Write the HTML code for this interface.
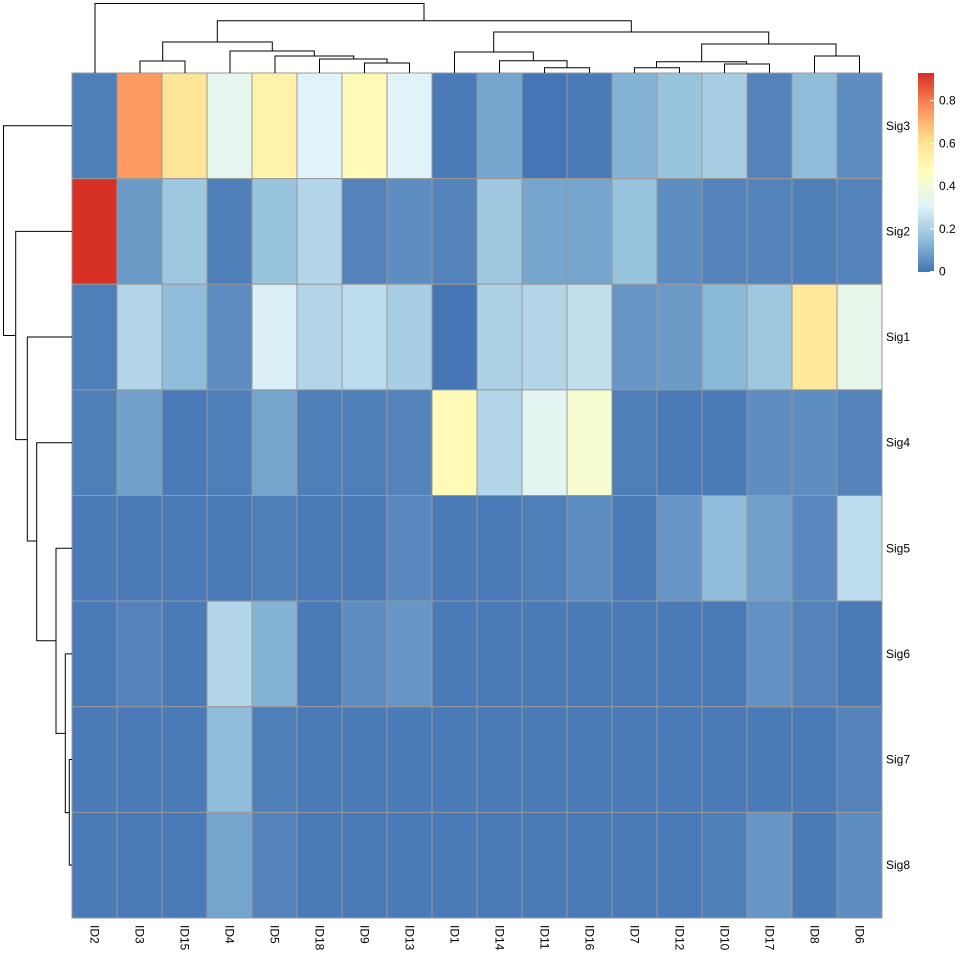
<!DOCTYPE html>
<html><head><meta charset="utf-8"><style>
body{margin:0;background:#fff;}
svg{display:block;font-family:"Liberation Sans",sans-serif;}
</style></head><body>
<svg id="chart" width="960" height="960" viewBox="0 0 960 960" xmlns="http://www.w3.org/2000/svg">
<g id="cells"></g>
<g id="coldendro" stroke="#000" stroke-width="1" fill="none"></g>
<g id="rowdendro" stroke="#000" stroke-width="1" fill="none"></g>
<g id="collabels"></g>
<g id="rowlabels"></g>
<g id="legend"></g>
</svg>
<script>
const columns = ["ID2","ID3","ID15","ID4","ID5","ID18","ID9","ID13","ID1","ID14","ID11","ID16","ID7","ID12","ID10","ID17","ID8","ID6"];
const rows = ["Sig3","Sig2","Sig1","Sig4","Sig5","Sig6","Sig7","Sig8"];
const sig3 = [0.02,0.75,0.6,0.34,0.53,0.31,0.49,0.31,0.01,0.1,0.0,0.01,0.13,0.17,0.2,0.03,0.15,0.05];
const sig2 = [0.93,0.08,0.18,0.02,0.17,0.22,0.03,0.05,0.03,0.18,0.1,0.1,0.17,0.05,0.03,0.03,0.02,0.03];
const sig1 = [0.02,0.22,0.15,0.05,0.3,0.22,0.24,0.2,0.0,0.21,0.22,0.25,0.07,0.08,0.14,0.18,0.58,0.35];
const sig4 = [0.02,0.09,0.01,0.02,0.1,0.02,0.02,0.03,0.49,0.22,0.33,0.42,0.02,0.01,0.01,0.05,0.05,0.03];
const sig5 = [0.01,0.01,0.01,0.01,0.02,0.01,0.01,0.04,0.01,0.01,0.02,0.05,0.01,0.07,0.15,0.09,0.04,0.24];
const sig6 = [0.01,0.03,0.01,0.22,0.13,0.01,0.05,0.07,0.01,0.01,0.01,0.01,0.01,0.01,0.01,0.06,0.03,0.01];
const sig7 = [0.01,0.01,0.01,0.15,0.02,0.01,0.01,0.01,0.01,0.01,0.01,0.01,0.01,0.01,0.01,0.01,0.01,0.03];
const sig8 = [0.01,0.01,0.01,0.1,0.03,0.01,0.01,0.01,0.01,0.01,0.01,0.01,0.01,0.01,0.02,0.07,0.01,0.05];
const values = [sig3,sig2,sig1,sig4,sig5,sig6,sig7,sig8];
const legendTicks = [0,0.2,0.4,0.6,0.8];
const legendLabels = ["0","0.2","0.4","0.6","0.8"];
const vmax = 0.93;

const NS="http://www.w3.org/2000/svg";
const X0=72,X1=882,Y0=73,Y1=918;
const cw=(X1-X0)/columns.length, ch=(Y1-Y0)/rows.length;
const xc=i=>X0+cw*i+cw/2, yc=j=>Y0+ch*j+ch/2;
const pal=[[69,117,180],[145,191,219],[224,243,248],[255,255,191],[254,224,144],[252,141,89],[215,48,39]];
function color(v){let f=Math.max(0,Math.min(1,v/vmax))*6;let i=Math.min(5,Math.floor(f));let t=f-i;
 const c=pal[i].map((a,k)=>Math.round(a+(pal[i+1][k]-a)*t));return `rgb(${c[0]},${c[1]},${c[2]})`;}
function mk(tag,attrs,parent){const e=document.createElementNS(NS,tag);for(const k in attrs)e.setAttribute(k,attrs[k]);parent.appendChild(e);return e;}

const cells=document.getElementById('cells');
values.forEach((row,j)=>row.forEach((v,i)=>{
 const r=mk('rect',{x:X0+cw*i,y:Y0+ch*j,width:cw,height:ch,fill:color(v),stroke:'#999','stroke-width':1},cells);
 
 
}));

const cl=document.getElementById('collabels');
columns.forEach((c,i)=>{
 const t=mk('text',{x:0,y:0,transform:`translate(${xc(i)-4},925) rotate(90)`,'font-size':12,fill:'#000'},cl);
 t.textContent=c;
 
 
});
const rl=document.getElementById('rowlabels');
rows.forEach((r,j)=>{
 const t=mk('text',{x:886,y:yc(j)+4,'font-size':12,fill:'#000'},rl);
 t.textContent=r;
 
 
});

const cd=document.getElementById('coldendro');
const colLinks=[
 [95,424,3.5,73,20.7],[217.3,631.3,20.7,42,32],
 [162.7,272.3,42,61,51],[140,185,61,73,73],[230,314.3,51,73,56],[275,353.7,56,73,59],[319.5,387,59,73,63],[364.5,409.5,63,73,73],
 [493.7,768.7,32,52,44],[454.5,533.3,52,73,60.7],[499.5,567,60.7,73,67.7],[544.5,589.5,67.7,73,73],
 [701.7,836,44,61.7,56],[656.5,746.5,61.7,67.7,64],[634.5,679.5,67.7,73,73],[724.5,769.5,64,73,73],[814.5,859.5,56,73,73]];
colLinks.forEach(l=>{mk('path',{d:`M${l[0]},${l[3]}V${l[2]}H${l[1]}V${l[4]}`},cd);});
const rd=document.getElementById('rowdendro');
const rowLinks=[
 [125.8,335.5,3.5,72,15.7],[231.4,439.6,15.7,72,27.3],[337,541,27.3,72,36.7],[442.7,640.7,36.7,72,56],
 [548.3,733.4,56,72,65.3],[653.9,812.6,65.3,72,69.3],[759.5,865.1,69.3,72,72]];
rowLinks.forEach(l=>{mk('path',{d:`M${l[3]},${l[0]}H${l[2]}V${l[1]}H${l[4]}`},rd);});

const lg=document.getElementById('legend');
const LB=271.5, LT=73, per=(LB-LT)/vmax;
for(let k=0;k<100;k++){const y=LB-(k+1)*(LB-LT)/100;
 mk('rect',{x:918,y:y,width:16,height:(LB-LT)/100+0.5,fill:color((k+0.5)/100*vmax),stroke:'none'},lg);}
legendTicks.forEach((v,k)=>{
 const y=LB-v*per;
 mk('line',{x1:930,x2:934,y1:y,y2:y,stroke:'#fff','stroke-width':1},lg);
 const t=mk('text',{x:939,y:y+4,'font-size':12,fill:'#000'},lg);
 t.textContent=legendLabels[k];
 
 
});
</script>
</body></html>
